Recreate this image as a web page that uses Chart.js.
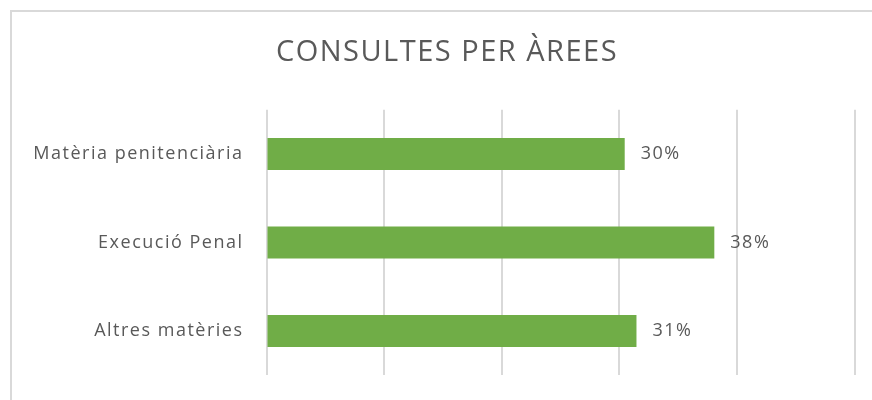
<!DOCTYPE html>
<html>
<head>
<meta charset="utf-8">
<script src="https://cdn.jsdelivr.net/npm/chart.js@4"></script>
<style>
html, body { margin: 0; padding: 0; width: 872px; height: 400px; overflow: hidden; background: #ffffff; }
#frame { position: absolute; left: 10px; top: 10px; width: 890px; height: 410px; border: 2px solid #d9d9d9; background: #ffffff; }
#c { position: absolute; left: 0; top: 0; }
</style>
</head>
<body>
<div id="frame"><canvas id="c" width="870" height="397"></canvas></div>
<script>
const titleText = "CONSULTES PER ÀREES";
const categories = ["Matèria penitenciària", "Execució Penal", "Altres matèries"];
const shares = [30.46, 38.08, 31.46];
const axisMin = 0;
const axisMax = 50;
const axisStep = 10;

const TEXT = "#595959";
const FONT = "'Open Sans', 'Noto Sans', sans-serif";

const spacingPlugin = {
  id: "spacing",
  beforeLayout(chart) { chart.ctx.letterSpacing = "1.5px"; },
  beforeDraw(chart) { chart.ctx.letterSpacing = "1.5px"; }
};

const valueLabels = {
  id: "valueLabels",
  afterDatasetsDraw(chart) {
    const ctx = chart.ctx;
    const meta = chart.getDatasetMeta(0);
    ctx.save();
    ctx.letterSpacing = "1.5px";
    ctx.font = "18px " + FONT;
    ctx.fillStyle = TEXT;
    ctx.textAlign = "left";
    ctx.textBaseline = "middle";
    meta.data.forEach((bar, i) => {
      const v = chart.data.datasets[0].data[i];
      ctx.fillText(Math.round(v) + "%", bar.x + 16, bar.y);
    });
    ctx.restore();
  }
};

new Chart(document.getElementById("c"), {
  type: "bar",
  data: {
    labels: categories,
    datasets: [{
      data: shares,
      backgroundColor: "#70ad47",
      borderWidth: 0,
      categoryPercentage: 1,
      barPercentage: 0.36
    }]
  },
  options: {
    indexAxis: "y",
    responsive: false,
    animation: false,
    devicePixelRatio: 1,
    layout: { padding: { left: 0, right: 0, top: 0, bottom: 0 } },
    plugins: {
      legend: { display: false },
      tooltip: { enabled: false },
      title: {
        display: true,
        text: titleText,
        color: TEXT,
        font: { family: FONT, size: 29, weight: "normal" },
        padding: { top: 23, bottom: 40 }
      }
    },
    scales: {
      x: {
        min: axisMin,
        max: axisMax,
        ticks: { display: false, stepSize: axisStep },
        grid: { color: "#d9d9d9", lineWidth: 2, drawTicks: false },
        border: { display: false }
      },
      y: {
        ticks: { color: TEXT, font: { family: FONT, size: 18 }, padding: 23 },
        grid: { display: false, drawTicks: false },
        border: { display: false },
        afterFit(scale) { scale.width = 254.5; }
      },
      yRight: {
        axis: "y",
        type: "category",
        position: "right",
        ticks: { display: false },
        grid: { display: false, drawTicks: false },
        border: { display: false },
        afterFit(scale) { scale.width = 27.5; }
      }
    }
  },
  plugins: [spacingPlugin, valueLabels]
});
</script>
</body>
</html>
